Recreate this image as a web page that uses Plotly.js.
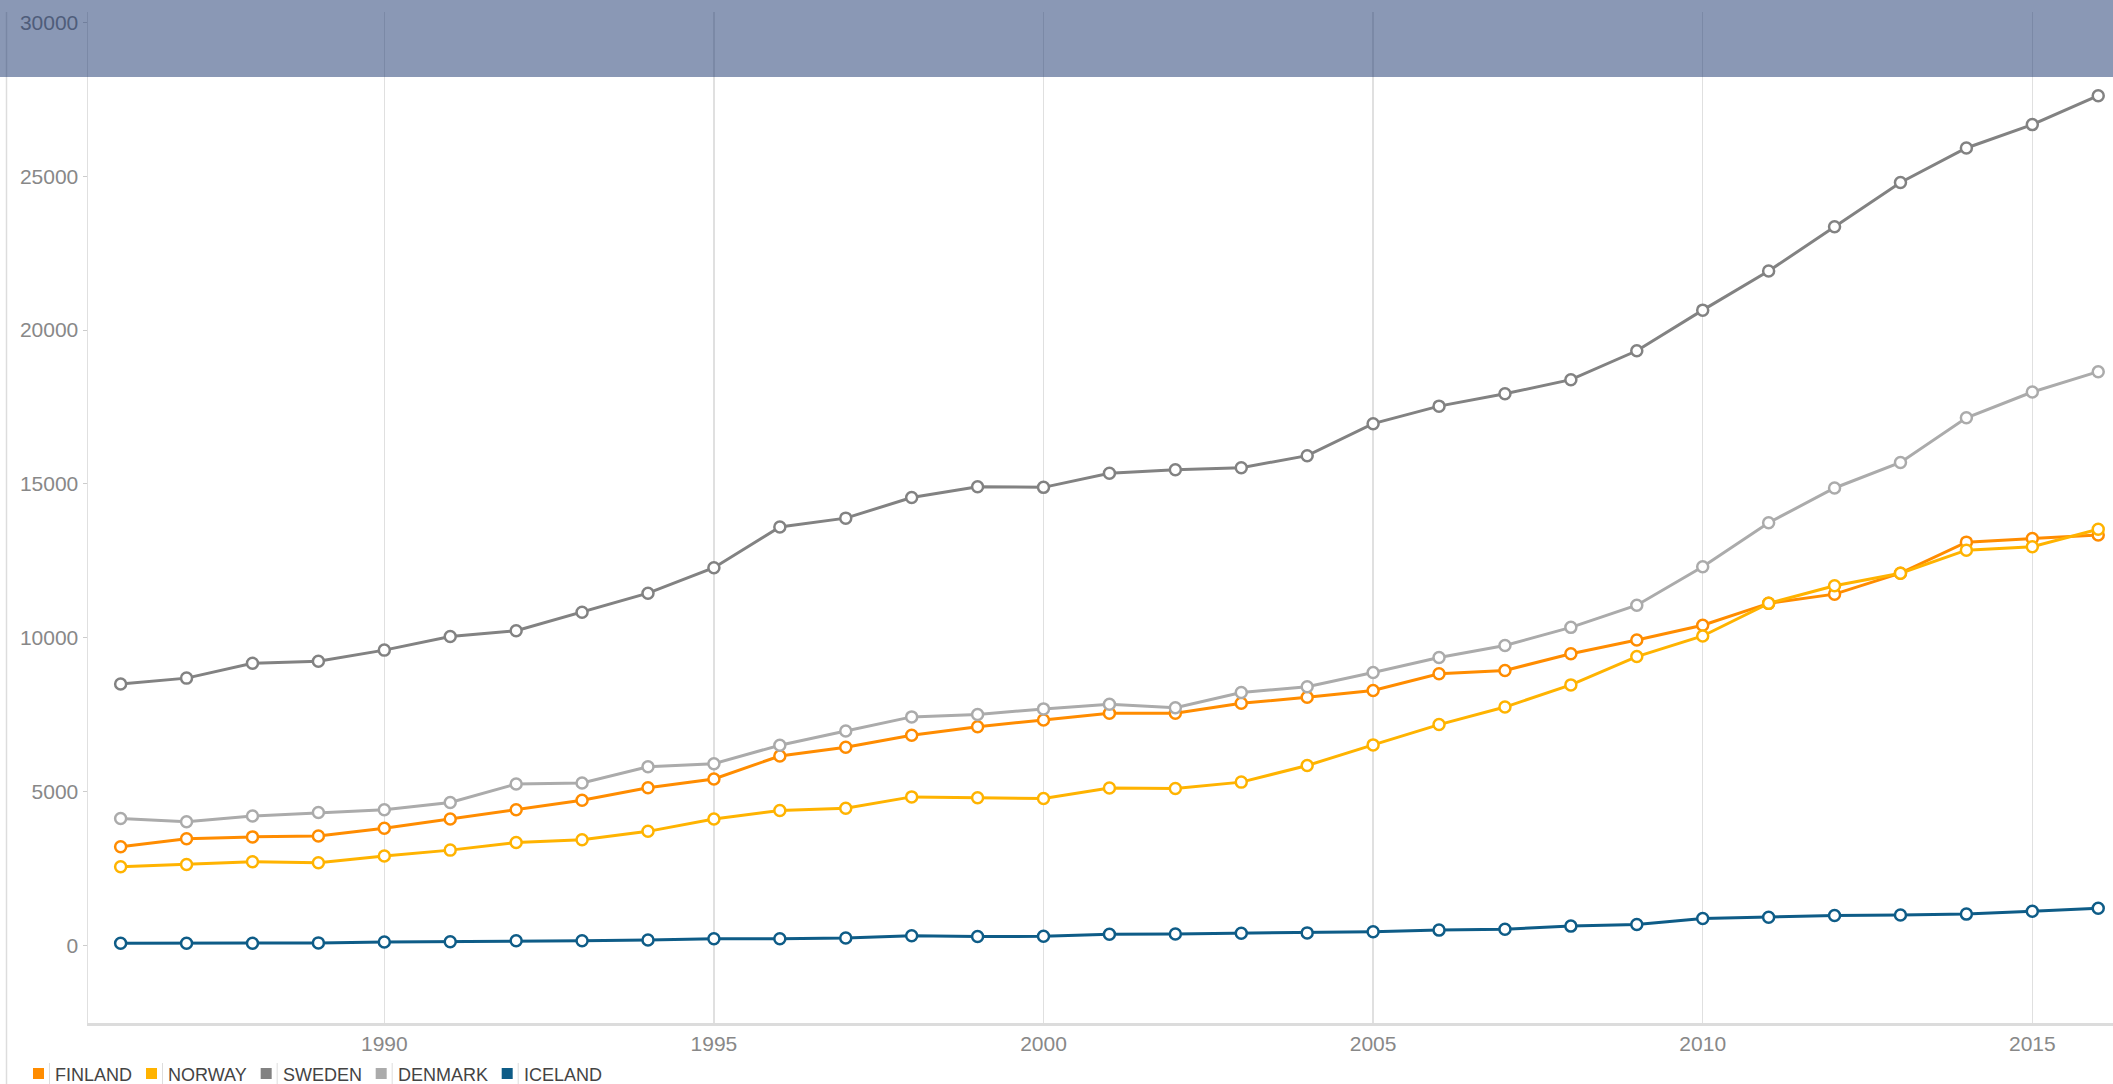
<!DOCTYPE html>
<html>
<head>
<meta charset="utf-8">
<script src="https://cdn.plot.ly/plotly-3.0.1.min.js"></script>
<style>
  html, body { margin: 0; padding: 0; background: #ffffff; }
  #chart { width: 2113px; height: 1084px; }
</style>
</head>
<body>
<div id="chart"></div>
<script>
// ---- data ----
const years = [1986,1987,1988,1989,1990,1991,1992,1993,1994,1995,1996,1997,1998,1999,2000,2001,2002,2003,2004,2005,2006,2007,2008,2009,2010,2011,2012,2013,2014,2015,2016];
const seriesNames = ["FINLAND", "NORWAY", "SWEDEN", "DENMARK", "ICELAND"];
const finland = [3210,3470,3530,3560,3810,4110,4410,4720,5130,5410,6160,6440,6830,7110,7330,7550,7550,7870,8070,8290,8830,8940,9480,9930,10410,11120,11420,12100,13110,13230,13340];
const norway  = [2560,2630,2720,2690,2910,3100,3350,3440,3710,4110,4390,4460,4830,4800,4780,5120,5100,5310,5850,6520,7180,7750,8470,9390,10060,11120,11690,12100,12850,12960,13530];
const sweden  = [8500,8690,9170,9240,9600,10040,10230,10830,11450,12280,13600,13890,14560,14910,14890,15350,15460,15530,15920,16960,17530,17930,18390,19330,20650,21920,23360,24800,25920,26680,27620];
const denmark = [4130,4020,4210,4320,4410,4650,5250,5280,5810,5910,6510,6970,7430,7510,7690,7840,7730,8220,8410,8870,9360,9750,10340,11060,12310,13740,14870,15700,17150,17990,18650];
const iceland = [70,70,70,85,115,125,155,155,180,220,220,245,320,290,300,365,375,395,410,450,500,530,630,680,880,920,975,990,1020,1110,1210];
const xTickVals = [1990, 1995, 2000, 2005, 2010, 2015];
const yTickVals = [0, 5000, 10000, 15000, 20000, 25000, 30000];

// ---- styles ----
const seriesValues = [finland, norway, sweden, denmark, iceland];
const colors = ["#ff8c00", "#ffb300", "#828282", "#ababab", "#0e5c87"];
const W = 2113, H = 1084;
const M = { l: 88, r: 0, t: 12, b: 61 };
const plotW = W - M.l - M.r, plotH = H - M.t - M.b;
const px = X => (X - M.l) / plotW;
const py = Y => (H - M.b - Y) / plotH;
const FONT = "Liberation Sans, Arial, sans-serif";

const traces = seriesNames.map((name, i) => ({
  type: "scatter",
  mode: "lines+markers",
  name: name,
  x: years,
  y: seriesValues[i],
  line: { color: colors[i], width: 3 },
  marker: { symbol: "circle", size: 11, color: "#ffffff", line: { color: colors[i], width: 2.5 } },
  cliponaxis: false,
  hoverinfo: "skip"
}));

// custom legend (square, separator, label)
const canvas = document.createElement("canvas");
const ctx = canvas.getContext("2d");
ctx.font = "18px " + FONT;
const shapes = [];
const annotations = [];
let lx = 33;
const legY = 1073.5;
seriesNames.forEach((name, i) => {
  shapes.push({ type: "rect", xref: "paper", yref: "paper",
    x0: px(lx), x1: px(lx + 11), y0: py(legY + 5.5), y1: py(legY - 5.5),
    fillcolor: colors[i], line: { width: 0 }, layer: "above" });
  shapes.push({ type: "line", xref: "paper", yref: "paper",
    x0: px(lx + 16.5), x1: px(lx + 16.5), y0: py(1063), y1: py(1084),
    line: { color: "#dddddd", width: 1 }, layer: "above" });
  annotations.push({ xref: "paper", yref: "paper", x: px(lx + 21), y: py(legY + 1),
    xanchor: "left", yanchor: "middle", showarrow: false, text: name,
    font: { family: FONT, size: 18, color: "#444444" }, borderpad: 0 });
  const tw = ctx.measureText(name).width;
  lx = lx + 22 + tw + 14;
});

// outer left line
shapes.push({ type: "line", xref: "paper", yref: "paper",
  x0: px(6.5), x1: px(6.5), y0: py(12), y1: py(1084),
  line: { color: "#dddddd", width: 1.5 }, layer: "below" });
// top translucent band
shapes.push({ type: "rect", xref: "paper", yref: "paper",
  x0: px(0), x1: px(W), y0: py(77), y1: py(0),
  fillcolor: "rgba(21,49,107,0.5)", line: { width: 0 }, layer: "above" });

const layout = {
  width: W, height: H,
  margin: M,
  paper_bgcolor: "#ffffff",
  plot_bgcolor: "#ffffff",
  showlegend: false,
  font: { family: FONT, size: 21, color: "#888888" },
  xaxis: {
    range: [1985.505, 2016.224],
    tickmode: "array", tickvals: xTickVals, ticktext: xTickVals.map(String),
    showgrid: true, gridcolor: "#e0e0e0", gridwidth: 1.5,
    showline: true, linecolor: "#dcdcdc", linewidth: 2.5,
    zeroline: false, ticks: "", fixedrange: true,
    tickfont: { family: FONT, size: 21, color: "#888888" }
  },
  yaxis: {
    range: [-2519, 30340],
    tickmode: "array", tickvals: yTickVals, ticktext: yTickVals.map(String),
    showgrid: false, zeroline: false,
    showline: true, linecolor: "#e0e0e0", linewidth: 1.5,
    ticks: "outside", ticklen: 4, tickcolor: "#cccccc", tickwidth: 1,
    fixedrange: true,
    tickfont: { family: FONT, size: 21, color: "#888888" }
  },
  shapes: shapes,
  annotations: annotations
};

Plotly.newPlot("chart", traces, layout, { displayModeBar: false, staticPlot: true });
</script>
</body>
</html>
